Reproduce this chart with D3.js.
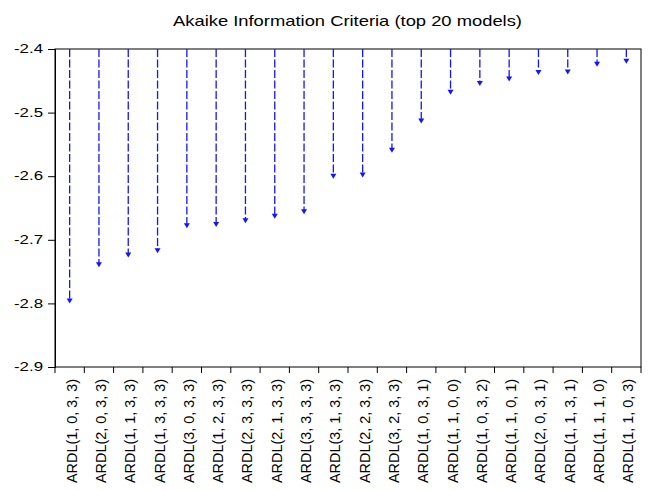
<!DOCTYPE html>
<html>
<head>
<meta charset="utf-8">
<script src="https://cdn.jsdelivr.net/npm/d3@7"></script>
<style>
  html, body { margin: 0; padding: 0; background: #fff; }
  svg { display: block; }
  text { font-family: "Liberation Sans", Arial, sans-serif; fill: #000; }
</style>
</head>
<body>
<svg id="chart" width="653" height="490"></svg>
<script>
// Model specifications, ordered from best (lowest AIC) to worst
const models = [
  "ARDL(1, 0, 3, 3)", "ARDL(2, 0, 3, 3)", "ARDL(1, 1, 3, 3)", "ARDL(1, 3, 3, 3)",
  "ARDL(3, 0, 3, 3)", "ARDL(1, 2, 3, 3)", "ARDL(2, 3, 3, 3)", "ARDL(2, 1, 3, 3)",
  "ARDL(3, 3, 3, 3)", "ARDL(3, 1, 3, 3)", "ARDL(2, 2, 3, 3)", "ARDL(3, 2, 3, 3)",
  "ARDL(1, 0, 3, 1)", "ARDL(1, 1, 0, 0)", "ARDL(1, 0, 3, 2)", "ARDL(1, 1, 0, 1)",
  "ARDL(2, 0, 3, 1)", "ARDL(1, 1, 3, 1)", "ARDL(1, 1, 1, 0)", "ARDL(1, 1, 0, 3)"
];
// Akaike information criterion for each model
const aic = [
  -2.800, -2.743, -2.728, -2.721,
  -2.682, -2.680, -2.674, -2.667,
  -2.660, -2.604, -2.602, -2.563,
  -2.517, -2.472, -2.458, -2.451,
  -2.441, -2.440, -2.428, -2.423
];
const yTicks = [-2.4, -2.5, -2.6, -2.7, -2.8, -2.9];
const title = "Akaike Information Criteria (top 20 models)";

const svg = d3.select("#chart");
const m = { left: 55, right: 641, top: 49, bottom: 367 };

const x = d3.scaleBand().domain(models).range([m.left, m.right]).padding(0);
const y = d3.scaleLinear().domain([-2.9, -2.4]).range([m.bottom, m.top]);
const fmt = d3.format(".1f");

// Title
svg.append("text")
  .attr("x", 347.5).attr("y", 26)
  .attr("text-anchor", "middle")
  .attr("textLength", 349)
  .attr("lengthAdjust", "spacingAndGlyphs")
  .style("font-size", "14.5px")
  .text(title);

// Plot frame
svg.append("rect")
  .attr("x", m.left).attr("y", m.top)
  .attr("width", m.right - m.left).attr("height", m.bottom - m.top)
  .attr("fill", "none").attr("stroke", "#000").attr("stroke-width", 1);

// Y axis
const yAxis = svg.append("g")
  .attr("transform", `translate(${m.left},0)`)
  .call(d3.axisLeft(y).tickValues(yTicks).tickFormat(fmt).tickSize(7).tickPadding(5));
yAxis.select(".domain").attr("stroke", "#000");
yAxis.selectAll(".tick line").attr("stroke", "#000");
yAxis.selectAll(".tick text")
  .style("font-size", "12.5px")
  .style("font-family", "'Liberation Sans', Arial, sans-serif")
  .attr("fill", "#000")
  .attr("x", -12)
  .attr("dy", "0.3em")
  .attr("textLength", 29)
  .attr("lengthAdjust", "spacingAndGlyphs")
  .text(d => fmt(d).replace("\u2212", "-"));

// X axis: ticks fall between categories
const xAxisG = svg.append("g").attr("transform", `translate(0,${m.bottom})`);
const bounds = models.map(d => x(d)).concat([m.right]);
xAxisG.selectAll("line.sep")
  .data(bounds)
  .join("line")
  .attr("class", "sep")
  .attr("x1", d => d).attr("x2", d => d)
  .attr("y1", 0).attr("y2", 6)
  .attr("stroke", "#000");
xAxisG.selectAll("text")
  .data(models)
  .join("text")
  .attr("transform", d => `translate(${x(d) + x.bandwidth() / 2 + 7},${12}) rotate(-90)`)
  .attr("text-anchor", "end")
  .attr("textLength", 104)
  .attr("lengthAdjust", "spacingAndGlyphs")
  .style("font-size", "14px")
  .text(d => d);

// Dropped arrows from the top of the plot down to each AIC value
const arrows = svg.append("g");
models.forEach((mod, i) => {
  const cx = x(mod) + x.bandwidth() / 2;
  const tip = y(aic[i]);
  arrows.append("line")
    .attr("x1", cx).attr("x2", cx)
    .attr("y1", y(-2.4)).attr("y2", tip - 4)
    .attr("stroke", "#1414ff")
    .attr("stroke-width", 1.3)
    .attr("stroke-dasharray", "8,2.5");
  arrows.append("path")
    .attr("d", `M${cx - 3},${tip - 5}L${cx + 3},${tip - 5}L${cx},${tip}Z`)
    .attr("fill", "#1414ff");
});
</script>
</body>
</html>
